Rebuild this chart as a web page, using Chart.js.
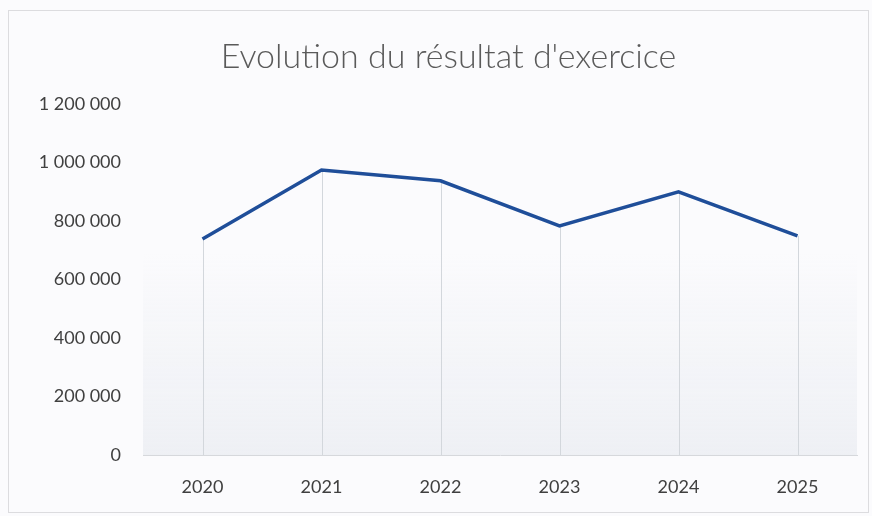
<!DOCTYPE html>
<html>
<head>
<meta charset="utf-8">
<script src="https://cdn.jsdelivr.net/npm/chart.js@4"></script>
<style>
  body { margin: 0; background: #fbfbfd; }
  #frame { position: absolute; left: 8px; top: 10px; width: 859px; height: 501px; border: 1px solid #dcdcdf; }
  #wrap { position: absolute; left: 0; top: 0; width: 872px; height: 516px; }
</style>
</head>
<body>
<div id="frame"></div>
<div id="wrap"><canvas id="chart"></canvas></div>
<script>
const years = ["2020", "2021", "2022", "2023", "2024", "2025"];
const resultat = [738000, 974000, 937000, 783000, 899000, 749000];
const chartTitle = "Evolution du résultat d'exercice";

// format 1200000 -> "1 200 000"
const fmt = (v) => String(v).replace(/\B(?=(\d{3})+(?!\d))/g, " ");

// light shading in the lower part of the plot
const shade = {
  id: "shade",
  beforeDatasetsDraw(chart) {
    const { ctx, chartArea } = chart;
    const top = chartArea.top + 150;
    const g = ctx.createLinearGradient(0, top, 0, chartArea.bottom);
    g.addColorStop(0, "rgba(230,233,239,0)");
    g.addColorStop(1, "rgba(230,233,239,0.6)");
    ctx.save();
    ctx.fillStyle = g;
    ctx.fillRect(chartArea.left, top, chartArea.right - chartArea.left, chartArea.bottom - top);
    ctx.restore();
  },
};

// vertical drop lines from each point down to the axis
const dropLines = {
  id: "dropLines",
  beforeDatasetsDraw(chart) {
    const { ctx } = chart;
    const yScale = chart.scales.y;
    const meta = chart.getDatasetMeta(0);
    ctx.save();
    ctx.strokeStyle = "#d3d7dc";
    ctx.lineWidth = 1;
    meta.data.forEach((pt) => {
      const x = Math.round(pt.x) + 0.5;
      ctx.beginPath();
      ctx.moveTo(x, pt.y);
      ctx.lineTo(x, yScale.getPixelForValue(0));
      ctx.stroke();
    });
    ctx.restore();
  },
};

new Chart(document.getElementById("chart"), {
  type: "line",
  data: {
    labels: years,
    datasets: [
      {
        data: resultat,
        borderColor: "#1f4e99",
        borderWidth: 3.5,
        pointRadius: 0,
        tension: 0,
        fill: false,
      },
    ],
  },
  options: {
    responsive: true,
    maintainAspectRatio: false,
    animation: false,
    layout: { padding: { left: 40, right: 15, top: 0, bottom: 0 } },
    plugins: {
      legend: { display: false },
      tooltip: { enabled: false },
      title: {
        display: true,
        text: chartTitle,
        color: "#5a5a5a",
        font: { family: "Lato", size: 34, weight: 300 },
        padding: { top: 37, bottom: 26 },
      },
    },
    scales: {
      x: {
        offset: true,
        afterFit: (scale) => { scale.height = 61; },
        grid: { display: false, drawTicks: false },
        border: { display: true, color: "#d6d8dc", width: 1 },
        ticks: {
          color: "#404040",
          font: { family: "Lato", size: 18 },
          padding: 21,
        },
      },
      y: {
        min: 0,
        max: 1200000,
        afterFit: (scale) => { scale.width = 103; },
        grid: { display: false, drawTicks: false },
        border: { display: false },
        ticks: {
          stepSize: 200000,
          color: "#404040",
          font: { family: "Lato", size: 18 },
          padding: 22,
          callback: (v) => fmt(v),
        },
      },
    },
  },
  plugins: [shade, dropLines],
});
</script>
</body>
</html>
